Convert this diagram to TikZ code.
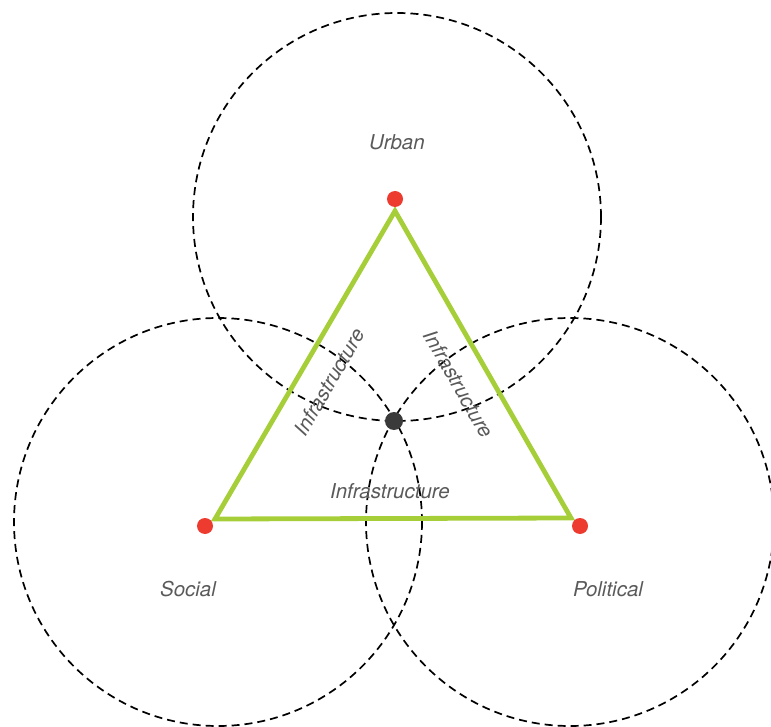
\documentclass[tikz,border=0pt]{standalone}
\usepackage{fontspec}
\setmainfont{TeX Gyre Heros}
\definecolor{lbl}{HTML}{5A5A5A}
\definecolor{tri}{HTML}{A6CE39}
\definecolor{reddot}{HTML}{EE3B2F}
\definecolor{darkdot}{HTML}{3A3A3A}
\tikzset{
  ring/.style={draw=black, line width=1.7pt, dash pattern=on 8pt off 5pt},
  lab/.style={text=lbl, font=\fontsize{20.5}{24}\selectfont\itshape, inner sep=0pt},
  rdot/.style={circle, fill=reddot, minimum size=16pt, inner sep=0pt},
  ddot/.style={circle, fill=darkdot, minimum size=18pt, inner sep=0pt},
  edge/.style={draw=tri, line width=4.8pt, line join=miter}
}
\begin{document}
\begin{tikzpicture}[x=1pt,y=-1pt]
\useasboundingbox (0,0) rectangle (771,727);
\clip (0,0) rectangle (771,727);
% circles
\draw[ring] (397,217) circle[radius=204pt];
\draw[ring] (218,522) circle[radius=204pt];
\draw[ring] (570,522) circle[radius=204pt];
% triangle
\coordinate (tA) at (395,211);
\coordinate (tB) at (215,519);
\coordinate (tC) at (571,518);
\draw[edge] (tA) -- (tB) -- (tC) -- cycle;
% dots
\node[rdot] (urbanDot) at (395,199) {};
\node[rdot] (socialDot) at (205,526) {};
\node[rdot] (politicalDot) at (580,526) {};
\node[ddot] (center) at (394,421) {};
% labels
\node[lab] (urban) at (397,142) {Urban};
\node[lab] (social) at (188,589) {Social};
\node[lab] (political) at (608,589) {Political};
\node[lab] (infB) at (390,491) {Infrastructure};
\node[lab, rotate=60] (infL) at (329,382) {Infrastructure};
\node[lab, rotate=-60] (infR) at (459,384) {Infrastructure};
\end{tikzpicture}
\end{document}
